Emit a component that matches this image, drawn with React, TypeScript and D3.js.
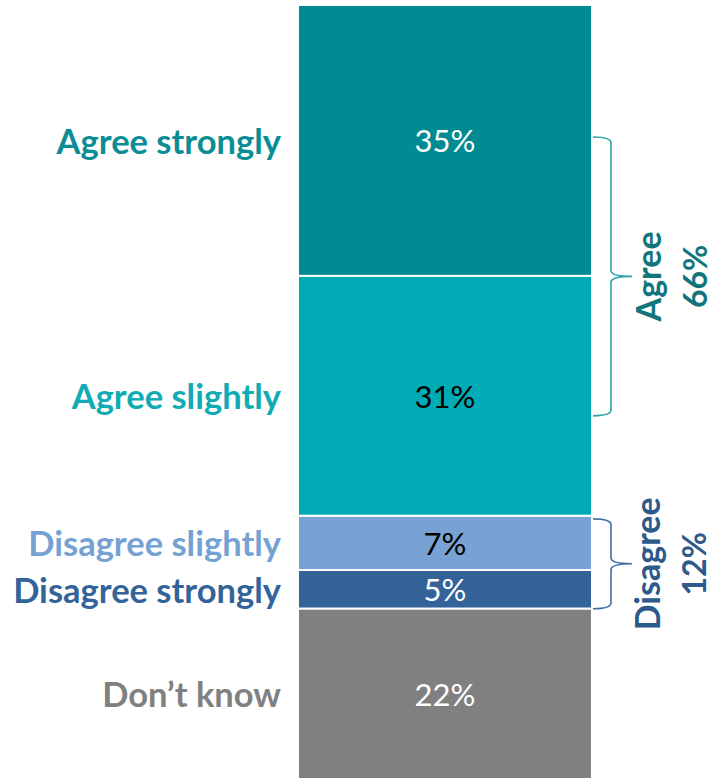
import React from "react";
import * as d3 from "d3";

const categories = ["Agree strongly", "Agree slightly", "Disagree slightly", "Disagree strongly", "Don\u2019t know"];
const values = [35, 31, 7, 5, 22];
const groupLabels = ["Agree", "Disagree"];
const groupValues = ["66%", "12%"];

const barColors = ["#008b92", "#00abb6", "#77a2d3", "#336399", "#808080"];
const labelColors = ["#0a8d94", "#10abb4", "#75a1d3", "#336399", "#808080"];
const valueColors = ["#ffffff", "#000000", "#000000", "#ffffff", "#ffffff"];
const bracketColors = ["#2aa3aa", "#3f6ea3"];
const groupTextColors = ["#11757b", "#2c5a8b"];

const W = 713;
const H = 781;
const FONT = "Lato, 'Open Sans', sans-serif";

export default function App() {
  const y = d3.scaleLinear().domain([0, 100]).range([5, 779]);
  const x0 = 298;
  const x1 = 592;
  const stack = d3.cumsum(values);
  const segs = values.map((v, i) => ({
    cat: categories[i],
    v,
    y0: y(stack[i] - v),
    y1: y(stack[i]),
    i,
  }));

  const brace = (ya: number, yb: number) => {
    const bx0 = 593;
    const bx1 = 611;
    const bx2 = 632;
    const r = 6;
    const ym = (ya + yb) / 2;
    return `M${bx0},${ya} Q${bx1},${ya} ${bx1},${ya + r} L${bx1},${ym - r} Q${bx1},${ym} ${bx2},${ym} Q${bx1},${ym} ${bx1},${ym + r} L${bx1},${yb - r} Q${bx1},${yb} ${bx0},${yb}`;
  };

  const braceSpan = [
    [y(0) + 132, y(stack[1]) - 100],
    [y(stack[1]) + 3, y(stack[3])],
  ];

  return (
    <svg width={W} height={H} style={{ position: "absolute", left: 0, top: 0, background: "#fff" }}>
      {segs.map((s) => (
        <g key={s.cat}>
          <rect
            x={x0}
            y={s.y0}
            width={x1 - x0}
            height={s.y1 - s.y0}
            fill={barColors[s.i]}
            stroke="#fff"
            strokeWidth={2}
          />
          <text
            x={(x0 + x1) / 2}
            y={(s.y0 + s.y1) / 2}
            textAnchor="middle"
            dominantBaseline="central"
            fontFamily={FONT}
            fontSize={31}
            fill={valueColors[s.i]}
          >
            {s.v}%
          </text>
          <text
            x={281}
            y={(s.y0 + s.y1) / 2}
            textAnchor="end"
            dominantBaseline="central"
            fontFamily={FONT}
            fontWeight="bold"
            fontSize={34.5}
            fill={labelColors[s.i]}
          >
            {s.cat}
          </text>
        </g>
      ))}
      {groupLabels.map((g, k) => {
        const ya = braceSpan[k][0];
        const yb = braceSpan[k][1];
        const ym = (ya + yb) / 2;
        const bx = k === 0 ? [661, 707] : [660, 706];
        return (
          <g key={g}>
            <path d={brace(ya, yb)} fill="none" stroke={bracketColors[k]} strokeWidth={1.6} />
            <text
              transform={`translate(${bx[0]},${ym}) rotate(-90)`}
              textAnchor="middle"
              fontFamily={FONT}
              fontWeight="bold"
              fontSize={34}
              fill={groupTextColors[k]}
            >
              {g}
            </text>
            <text
              transform={`translate(${bx[1]},${ym}) rotate(-90)`}
              textAnchor="middle"
              fontFamily={FONT}
              fontWeight="bold"
              fontSize={32}
              fill={groupTextColors[k]}
            >
              {groupValues[k]}
            </text>
          </g>
        );
      })}
    </svg>
  );
}
